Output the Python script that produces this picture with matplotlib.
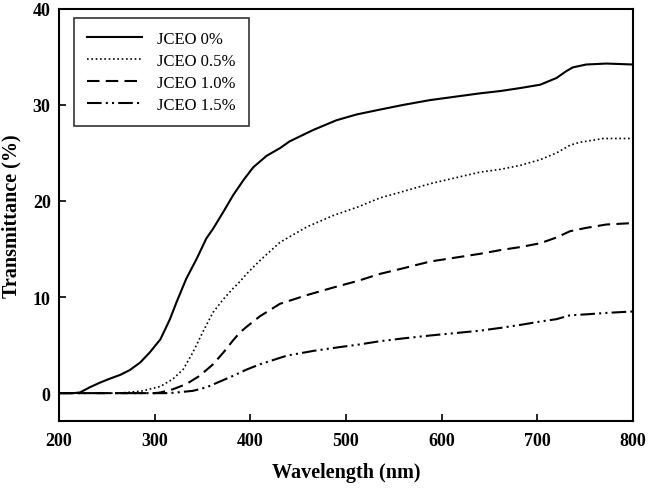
import matplotlib
matplotlib.use("Agg")
import matplotlib.pyplot as plt

plt.rcParams['font.family'] = ['Liberation Serif', 'DejaVu Serif']

wl_0 = [200, 215, 222, 232, 243, 253, 264, 274, 285, 295, 306, 316, 323, 333, 344, 354, 361, 372, 382, 393,
        403, 410, 417, 431, 441, 466, 490, 511, 535, 560, 588, 614, 640, 662, 682, 703, 720, 730, 737, 751, 772, 800]
t_0 = [0, 0, 0.07, 0.6, 1.1, 1.5, 1.9, 2.4, 3.2, 4.25, 5.6, 7.7, 9.5, 11.9, 14.0, 16.1, 17.1, 18.9, 20.6, 22.2,
       23.5, 24.1, 24.7, 25.5, 26.2, 27.4, 28.4, 29.0, 29.5, 30.0, 30.5, 30.85, 31.2, 31.45, 31.75, 32.1, 32.8, 33.5, 33.9, 34.2, 34.3, 34.2]

wl_05 = [200, 260, 271, 288, 306, 319, 330, 340, 351, 361, 372, 382, 389, 396, 410, 431, 459, 487, 513, 535,
         560, 588, 614, 640, 662, 682, 703, 720, 734, 744, 769, 800]
t_05 = [0, 0, 0.07, 0.24, 0.7, 1.46, 2.5, 4.25, 6.5, 8.4, 9.8, 10.9, 11.6, 12.4, 13.8, 15.7, 17.3, 18.5, 19.4, 20.3,
        21.0, 21.8, 22.4, 23.0, 23.3, 23.7, 24.3, 25.0, 25.8, 26.1, 26.5, 26.5]

wl_10 = [200, 300, 306, 319, 333, 347, 361, 372, 382, 389, 396, 410, 431, 459, 487, 513, 535, 560, 588, 614,
         640, 662, 682, 703, 720, 734, 751, 772, 800]
t_10 = [0, 0, 0.07, 0.4, 0.94, 1.8, 3.0, 4.25, 5.5, 6.3, 6.9, 8.0, 9.3, 10.2, 11.0, 11.7, 12.4, 13.0, 13.7, 14.1,
        14.5, 14.9, 15.2, 15.6, 16.2, 16.85, 17.2, 17.55, 17.7]

wl_15 = [200, 315, 323, 340, 354, 368, 382, 396, 410, 438, 466, 494, 513, 535, 560, 588, 614, 640, 662, 682,
         703, 720, 734, 751, 772, 800]
t_15 = [0, 0, 0.07, 0.24, 0.6, 1.2, 1.8, 2.45, 3.0, 3.9, 4.4, 4.8, 5.05, 5.4, 5.7, 6.0, 6.25, 6.5, 6.8, 7.1,
        7.45, 7.7, 8.1, 8.2, 8.35, 8.5]

labels = ['JCEO 0%', 'JCEO 0.5%', 'JCEO 1.0%', 'JCEO 1.5%']
x_ticks = [200, 300, 400, 500, 600, 700, 800]
y_ticks = [0, 10, 20, 30, 40]

fig = plt.figure(figsize=(6.48, 4.89), dpi=100)
ax = fig.add_axes([0.091, 0.137, 0.886, 0.843])

ax.plot(wl_0, t_0, color='black', lw=1.5, ls='-', label=labels[0])
ax.plot(wl_05, t_05, color='black', lw=1.2, ls=(0, (1, 1.6)), label=labels[1])
ax.plot(wl_10, t_10, color='black', lw=1.5, ls=(0, (6, 3)), label=labels[2])
ax.plot(wl_15, t_15, color='black', lw=1.5, ls=(0, (7, 2, 1, 2, 1, 2)), label=labels[3])

ax.set_xlim(200, 800)
ax.set_ylim(-2.9, 40)
ax.set_xticks(x_ticks)
ax.set_yticks(y_ticks)
ax.tick_params(direction='in', length=5, width=1.2, labelsize=13)
ax.tick_params(axis='x', pad=8)
ax.tick_params(axis='y', pad=6)
for lab in ax.get_xticklabels() + ax.get_yticklabels():
    lab.set_fontweight('bold')
for s in ax.spines.values():
    s.set_linewidth(1.5)

ax.set_xlabel('Wavelength (nm)', fontsize=14.5, fontweight='bold')
ax.set_ylabel('Transmittance (%)', fontsize=14.5, fontweight='bold')
ax.xaxis.set_label_coords(0.5, -0.1)
ax.yaxis.set_label_coords(-0.066, 0.5)

leg = ax.legend(loc='upper left', bbox_to_anchor=(0.026, 0.978), fontsize=12,
                frameon=True, fancybox=False, edgecolor='black', handlelength=3.3,
                handletextpad=0.9, borderpad=0.8, labelspacing=0.35, borderaxespad=0)
leg.get_frame().set_linewidth(1.2)

fig.savefig('out.png', dpi=100)
